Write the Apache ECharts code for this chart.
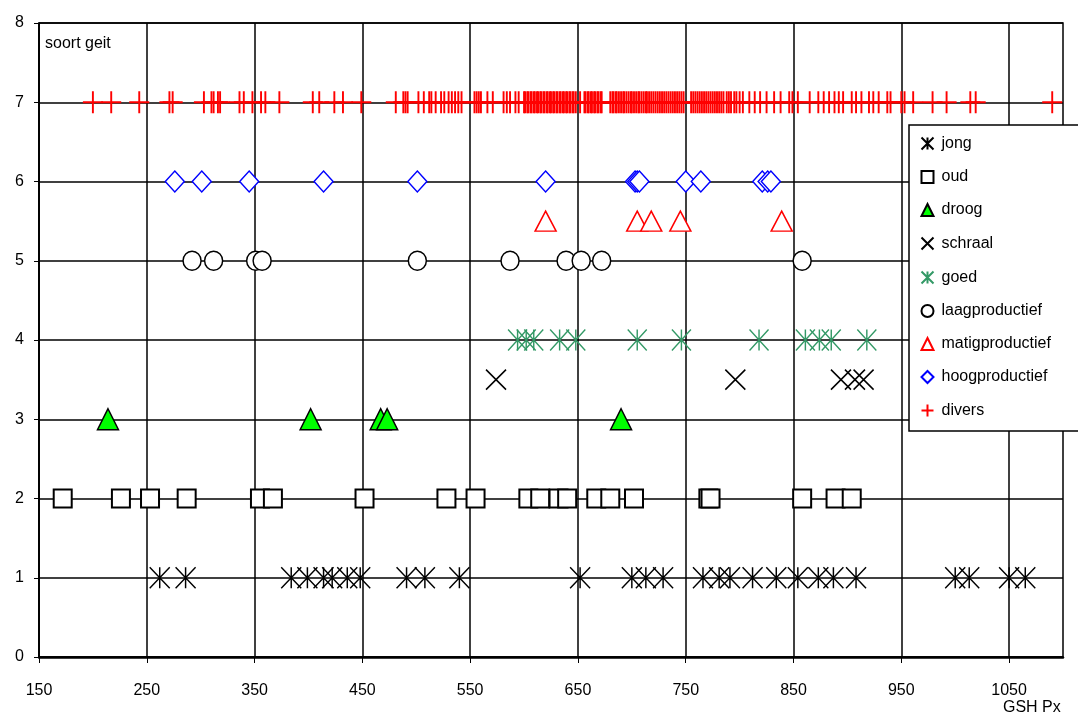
<!DOCTYPE html>
<html><head><meta charset="utf-8">
<script src="https://cdn.jsdelivr.net/npm/echarts@6/dist/echarts.min.js"></script>
<style>html,body{margin:0;padding:0;background:#fff}#c{width:1078px;height:720px}</style>
</head><body><div id="c"></div>
<script>
// ---- data ----
const xTickLabels = [150, 250, 350, 450, 550, 650, 750, 850, 950, 1050];
const yTickLabels = [0, 1, 2, 3, 4, 5, 6, 7, 8];
const seriesNames = ['jong', 'oud', 'droog', 'schraal', 'goed', 'laagproductief', 'matigproductief', 'hoogproductief', 'divers'];
const seriesLevels = [1, 2, 3, 3.5, 4, 5, 5.5, 6, 7];

const jong = [262, 286, 384, 399, 414, 422, 436, 448, 491, 508, 540, 652, 700, 713, 729, 766, 781, 791, 812, 834, 854, 873, 887, 908, 1000, 1013, 1050, 1065];
const oud = [172, 226, 253, 287, 355, 367, 452, 528, 555, 604, 615, 632, 640, 667, 680, 702, 771, 773, 858, 889, 904];
const droog = [214, 402, 467, 473, 690];
const schraal = [574, 796, 894, 907, 915];
const goed = [594, 602, 609, 633, 648, 705, 746, 818, 861, 874, 885, 918];
const laagproductief = [292, 312, 351, 357, 501, 587, 639, 653, 672, 858];
const matigproductief = [620, 705, 718, 745, 839];
const hoogproductief = [276, 301, 345, 414, 501, 620, 703, 705, 707, 750, 764, 821, 826, 829];
const divers = [200, 217, 243, 271, 274, 303, 310, 312, 316, 318, 336, 340, 348, 356, 360, 373, 404, 410, 424, 432, 449,
  481, 488, 490, 492, 502, 507, 512, 514, 518, 523, 526, 530, 533, 536, 539, 542, 554, 556, 558, 560, 566, 571, 581, 584, 587, 592, 595,
  600, 601, 603, 604, 606, 607, 609, 610, 612, 613, 615, 616, 618, 619, 621, 622, 624, 625, 627, 628, 630, 631, 633, 634, 636, 637, 639,
  640, 642, 643, 645, 646, 648, 652, 656, 657, 659, 660, 662, 663, 665, 666, 668, 669, 671, 672,
  680, 682, 683, 685, 686, 688, 690, 692, 693, 695, 697, 699, 700, 702, 704, 706, 707, 709, 711, 713, 714, 716, 718, 720, 722, 724,
  726, 728, 730, 732, 734, 736, 738, 740, 742, 744, 746, 748,
  755, 757, 759, 761, 763, 765, 767, 769, 771, 773, 775, 777, 779, 781, 783, 785, 788, 790, 792, 795, 797, 800, 803,
  809, 814, 819, 825, 832, 838, 846, 849, 854, 865, 873, 878, 883, 888, 892, 896, 904, 908, 913, 920, 924, 929, 937, 940,
  950, 953, 961, 979, 992, 1014, 1019, 1090];

const seriesValues = [jong, oud, droog, schraal, goed, laagproductief, matigproductief, hoogproductief, divers];

// ---- styles ----
const ASTER = 'path://M5,0L5,10M0,0L10,10M10,0L0,10';
const XMARK = 'path://M0,0L10,10M10,0L0,10';
const PLUS = 'path://M0,5L10,5M5,0L5,10';
const styles = [
  {symbol: ASTER, size: [20, 21], item: {color: 'none', borderColor: '#000', borderWidth: 1.5}},
  {symbol: 'rect', size: [18, 18], item: {color: '#fff', borderColor: '#000', borderWidth: 2}},
  {symbol: 'triangle', size: [21, 21], item: {color: '#00ff00', borderColor: '#000', borderWidth: 1.5}},
  {symbol: XMARK, size: [20, 20], item: {color: 'none', borderColor: '#000', borderWidth: 1.5}},
  {symbol: ASTER, size: [19, 21], item: {color: 'none', borderColor: '#339966', borderWidth: 1.5}},
  {symbol: 'circle', size: [18, 19], item: {color: '#fff', borderColor: '#000', borderWidth: 1.5}},
  {symbol: 'triangle', size: [21, 20], item: {color: '#fff', borderColor: '#ff0000', borderWidth: 1.5}},
  {symbol: 'diamond', size: [19, 21], item: {color: '#fff', borderColor: '#0000ff', borderWidth: 1.5}},
  {symbol: PLUS, size: [20, 22], item: {color: 'none', borderColor: '#ff0000', borderWidth: 2}}
];

const FONT = '"Liberation Sans", Arial, sans-serif';

const series = seriesNames.map((name, i) => ({
  name: name,
  type: 'scatter',
  symbol: styles[i].symbol,
  symbolSize: styles[i].size,
  itemStyle: Object.assign({opacity: 1}, styles[i].item),
  emphasis: {disabled: true},
  data: seriesValues[i].map(v => [v, seriesLevels[i]]),
  z: 3
}));

const chart = echarts.init(document.getElementById('c'), null, {renderer: 'canvas'});
chart.setOption({
  animation: false,
  backgroundColor: '#fff',
  textStyle: {fontFamily: FONT},
  grid: {left: 39, right: 15, top: 23, bottom: 63, show: true, borderColor: '#000', borderWidth: 1.5, backgroundColor: 'transparent'},
  xAxis: {
    type: 'value', min: 150, max: 1100, interval: 50,
    axisLine: {show: true, lineStyle: {color: '#000', width: 2.5}},
    axisTick: {show: true, customValues: xTickLabels, length: 6, lineStyle: {color: '#000', width: 1}},
    axisLabel: {customValues: xTickLabels, formatter: v => String(v), color: '#000', fontSize: 16, fontFamily: FONT, margin: 26},
    splitLine: {show: true, lineStyle: {color: '#000', width: 1.5}}
  },
  yAxis: {
    type: 'value', min: 0, max: 8, interval: 1,
    axisLine: {show: true, lineStyle: {color: '#000', width: 1.5}},
    axisTick: {show: true, length: 5, lineStyle: {color: '#000', width: 1}},
    axisLabel: {color: '#000', fontSize: 16, fontFamily: FONT, margin: 15},
    splitLine: {show: true, lineStyle: {color: '#000', width: 1.5}}
  },
  legend: {
    orient: 'vertical', left: 909, top: 125,
    data: seriesNames,
    backgroundColor: '#fff', borderColor: '#000', borderWidth: 1.5,
    padding: [10, 40, 12, 10],
    itemWidth: 12, itemHeight: 12, itemGap: 17,
    textStyle: {color: '#000', fontSize: 16, fontFamily: FONT, lineHeight: 16, padding: [0, 0, 0, 3]},
    selectedMode: false
  },
  graphic: [
    {type: 'text', left: 45, top: 36, z: 10, style: {text: 'soort geit', font: '16px ' + FONT, fill: '#000'}},
    {type: 'text', left: 1003, top: 700, z: 10, style: {text: 'GSH Px', font: '16px ' + FONT, fill: '#000'}}
  ],
  series: series
});
</script></body></html>
